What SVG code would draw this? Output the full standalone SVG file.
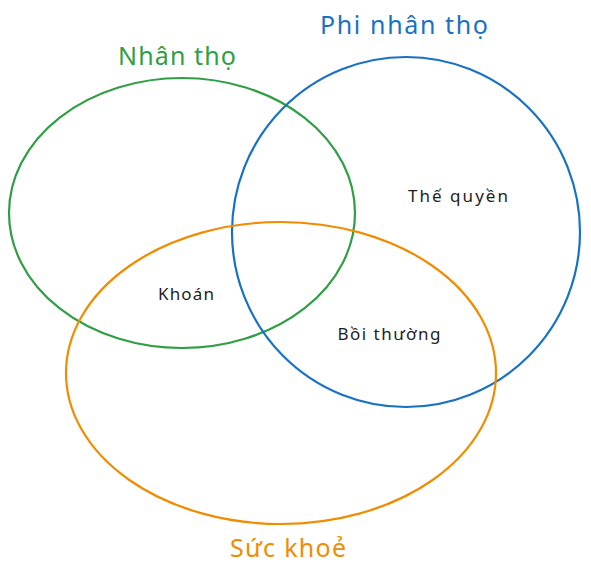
<svg xmlns="http://www.w3.org/2000/svg" width="591" height="577" viewBox="0 0 591 577">
<style>
.c{fill:none;stroke-width:2.2;stroke-linecap:round}
.t{font-family:"Noto Sans","Liberation Sans",sans-serif;text-anchor:middle}
.title{font-size:25px}
.in{font-size:17px;fill:#1e1e1e}
</style>
<rect width="591" height="577" fill="#ffffff"/>
<g id="connectors"></g>
<g id="nhan-tho">
<ellipse class="c" cx="182" cy="213" rx="173" ry="135" stroke="#2f9e44"/>
<text class="t title" x="177" y="65" fill="#2f9e44" textLength="118" lengthAdjust="spacing">Nhân thọ</text>
</g>
<g id="phi-nhan-tho">
<ellipse class="c" cx="406" cy="232" rx="174" ry="175" stroke="#1971c2"/>
<text class="t title" x="404" y="34" fill="#1971c2" textLength="168" lengthAdjust="spacing">Phi nhân thọ</text>
</g>
<g id="suc-khoe">
<ellipse class="c" cx="281" cy="373" rx="215" ry="151" stroke="#f08c00"/>
<text class="t title" x="288" y="557" fill="#f08c00" textLength="116" lengthAdjust="spacing">Sức khoẻ</text>
</g>
<g id="the-quyen"><text class="t in" x="458" y="202" textLength="100" lengthAdjust="spacing">Thế quyền</text></g>
<g id="khoan"><text class="t in" x="186" y="300" textLength="56" lengthAdjust="spacing">Khoán</text></g>
<g id="boi-thuong"><text class="t in" x="389" y="340" textLength="103" lengthAdjust="spacing">Bồi thường</text></g>
</svg>
